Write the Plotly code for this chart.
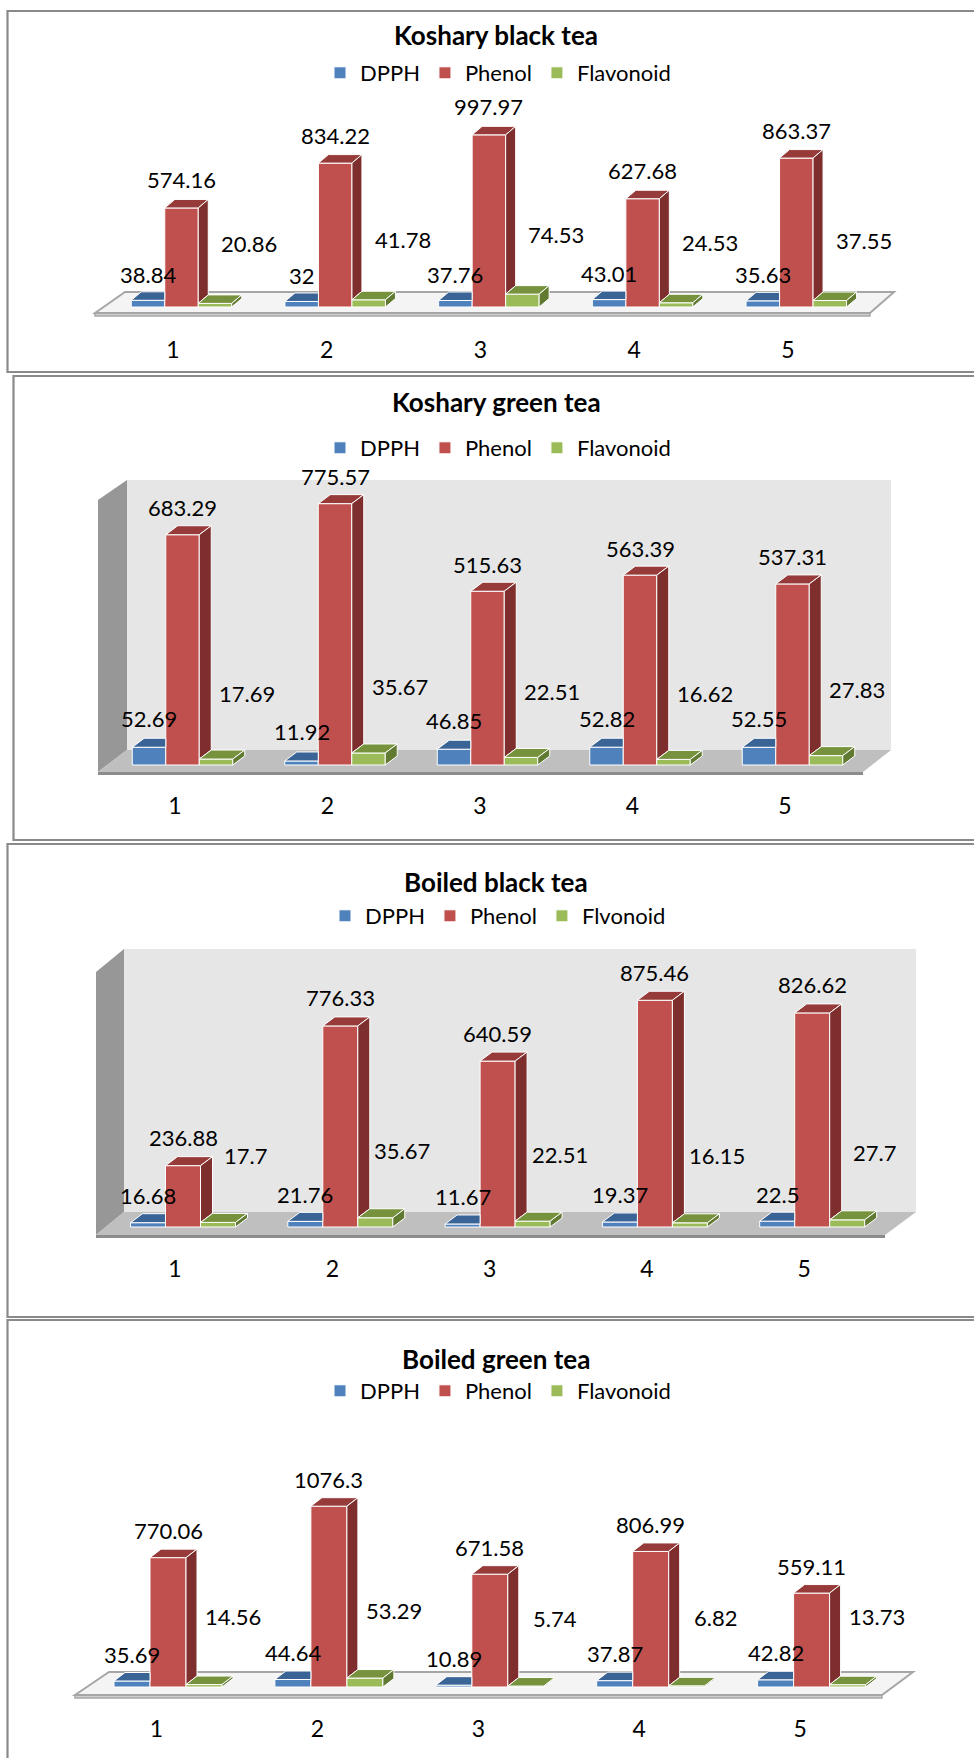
import plotly.graph_objects as go

W, H = 974, 1758

# ---------------- data ----------------
categories = ["1", "2", "3", "4", "5"]
panel_titles = ["Koshary black tea", "Koshary green tea", "Boiled black tea", "Boiled green tea"]
names_std = ["DPPH", "Phenol", "Flavonoid"]
names_bb = ["DPPH", "Phenol", "Flvonoid"]

kb_dpph = [38.84, 32, 37.76, 43.01, 35.63]
kb_phenol = [574.16, 834.22, 997.97, 627.68, 863.37]
kb_flav = [20.86, 41.78, 74.53, 24.53, 37.55]

kg_dpph = [52.69, 11.92, 46.85, 52.82, 52.55]
kg_phenol = [683.29, 775.57, 515.63, 563.39, 537.31]
kg_flav = [17.69, 35.67, 22.51, 16.62, 27.83]

bb_dpph = [16.68, 21.76, 11.67, 19.37, 22.5]
bb_phenol = [236.88, 776.33, 640.59, 875.46, 826.62]
bb_flav = [17.7, 35.67, 22.51, 16.15, 27.7]

bg_dpph = [35.69, 44.64, 10.89, 37.87, 42.82]
bg_phenol = [770.06, 1076.3, 671.58, 806.99, 559.11]
bg_flav = [14.56, 53.29, 5.74, 6.82, 13.73]

# ---------------- styles / geometry (pixels) ----------------
FRONT = ["#4F81BD", "#C0504D", "#9BBB59"]
TOP = ["#3B6496", "#963B39", "#76923C"]
SIDE = ["#2E5079", "#7E2F2D", "#617A31"]
FONT = "Lato"
TITLE_SIZE = 26
LEGEND_SIZE = 22
LABEL_SIZE = 22
TICK_SIZE = 23

panels = [
    dict(series=[kb_dpph, kb_phenol, kb_flav], names=names_std,
         box=(7.5, 11, 1000, 372), title_y=35, legend_y=73,
         cat0=173, sp=153.7, base=307, scale=0.1725, goff=8.5, bw=33.5,
         dx=10, dy=8.5, style="slab",
         floor=dict(lf=95, lb=125, rb=894, rf=870, back=292, front=313),
         cat_y=349, lab=dict(d=26, p=28, f=60, fx=34)),
    dict(series=[kg_dpph, kg_phenol, kg_flav], names=names_std,
         box=(13.5, 376, 1000, 840), title_y=402, legend_y=448,
         cat0=175, sp=152.5, base=765, scale=0.337, goff=7.5, bw=33.5,
         dx=12, dy=9, style="walls",
         floor=dict(lf=98, lb=127, rb=891, rf=863, back=750, front=772,
                    wall_top=480, side_top=500),
         cat_y=805, lab=dict(d=29, p=27, f=66, fx=31)),
    dict(series=[bb_dpph, bb_phenol, bb_flav], names=names_bb,
         box=(7.5, 844, 1000, 1317), title_y=882, legend_y=916,
         cat0=175, sp=157.3, base=1227, scale=0.259, goff=8, bw=35,
         dx=12, dy=9, style="walls",
         floor=dict(lf=96, lb=124, rb=916, rf=885, back=1212, front=1235,
                    wall_top=949, side_top=972),
         cat_y=1268, lab=dict(d=27, p=28, f=67, fx=27)),
    dict(series=[bg_dpph, bg_phenol, bg_flav], names=names_std,
         box=(7.5, 1320, 1000, 1790), title_y=1359, legend_y=1391,
         cat0=156.5, sp=160.9, base=1687, scale=0.168, goff=11.5, bw=36,
         dx=11, dy=8.5, style="slab",
         floor=dict(lf=75, lb=109, rb=913, rf=882, back=1672, front=1695),
         cat_y=1728, lab=dict(d=27, p=27, f=68, fx=29)),
]

fig = go.Figure()
shapes = []
annotations = []
layout_extra = {}


def fmt(v):
    return f"{v:g}"


for k, P in enumerate(panels):
    n = k + 1
    xa = "x" if n == 1 else f"x{n}"
    ya = "y" if n == 1 else f"y{n}"
    xaxis_key = "xaxis" if n == 1 else f"xaxis{n}"
    yaxis_key = "yaxis" if n == 1 else f"yaxis{n}"
    leg = "legend" if n == 1 else f"legend{n}"
    sp, sc = P["sp"], P["scale"]
    cat0, base = P["cat0"], P["base"]

    def X(px, cat0=cat0, sp=sp):
        return (px - cat0) / sp + 1

    def Y(py, base=base, sc=sc):
        return (base - py) / sc

    dX = P["dx"] / sp
    dY = P["dy"] / sc
    bw = P["bw"] / sp
    L, T, R, B = P["box"]

    # axes
    layout_extra[xaxis_key] = dict(
        domain=[0, 1], range=[X(0), X(W)], anchor="free",
        position=1 - (P["cat_y"] - 15) / H,
        tickmode="array", tickvals=[i + 1 for i in range(len(categories))],
        ticktext=categories, ticks="", showgrid=False, zeroline=False,
        showline=False, tickfont=dict(family=FONT, size=TICK_SIZE, color="#000000"),
        fixedrange=True)
    layout_extra[yaxis_key] = dict(
        domain=[1 - B / H if B < H else 0, 1 - T / H], range=[Y(min(B, H)), Y(T)],
        anchor=xa, visible=False, fixedrange=True)
    layout_extra[leg] = dict(
        orientation="h", x=498 / W, xanchor="center",
        y=1 - P["legend_y"] / H, yanchor="middle",
        font=dict(family=FONT, size=LEGEND_SIZE, color="#000000"),
        bgcolor="rgba(0,0,0,0)", traceorder="normal", itemclick=False)

    # background: floor / walls
    F = P["floor"]

    def path(pts, X=X, Y=Y):
        return "M " + " L ".join(f"{X(px)},{Y(py)}" for px, py in pts) + " Z"

    if P["style"] == "walls":
        shapes.append(dict(type="path", xref=xa, yref=ya, layer="below",
                           path=path([(F["lb"], F["wall_top"]), (F["rb"], F["wall_top"]),
                                      (F["rb"], F["back"]), (F["lb"], F["back"])]),
                           fillcolor="#E6E6E6", line=dict(width=0)))
        shapes.append(dict(type="path", xref=xa, yref=ya, layer="below",
                           path=path([(F["lf"], F["side_top"]), (F["lb"], F["wall_top"]),
                                      (F["lb"], F["back"]), (F["lf"], F["front"])]),
                           fillcolor="#979797", line=dict(width=0)))
        shapes.append(dict(type="path", xref=xa, yref=ya, layer="below",
                           path=path([(F["lf"], F["front"]), (F["lb"], F["back"]),
                                      (F["rb"], F["back"]), (F["rf"], F["front"])]),
                           fillcolor="#BFBFBF", line=dict(width=0)))
        shapes.append(dict(type="path", xref=xa, yref=ya, layer="below",
                           path=path([(F["lf"], F["front"]), (F["rf"], F["front"]),
                                      (F["rf"], F["front"] + 3), (F["lf"], F["front"] + 3)]),
                           fillcolor="#8C8C8C", line=dict(width=0)))
    else:
        shapes.append(dict(type="path", xref=xa, yref=ya, layer="below",
                           path=path([(F["lf"], F["front"]), (F["rf"], F["front"]),
                                      (F["rf"], F["front"] + 3), (F["lf"], F["front"] + 3)]),
                           fillcolor="#D0D0D0", line=dict(color="#A6A6A6", width=1.5)))
        shapes.append(dict(type="path", xref=xa, yref=ya, layer="below",
                           path=path([(F["lf"], F["front"]), (F["lb"], F["back"]),
                                      (F["rb"], F["back"]), (F["rf"], F["front"])]),
                           fillcolor="#F4F4F4", line=dict(color="#A6A6A6", width=2)))

    # panel border
    shapes.append(dict(type="rect", xref="paper", yref="paper",
                       x0=L / W, x1=R / W, y0=1 - B / H, y1=1 - T / H,
                       line=dict(color="#8A8A8A", width=2.2), fillcolor="rgba(0,0,0,0)"))

    # title
    annotations.append(dict(xref="paper", yref="paper", x=496 / W, y=1 - P["title_y"] / H,
                            xanchor="center", yanchor="middle", showarrow=False,
                            text=panel_titles[k],
                            font=dict(family=FONT, size=TITLE_SIZE, color="#000000",
                                      weight="bold")))

    series = P["series"]
    xs_all = []
    for s in range(3):
        off = (P["goff"] + (s - 1) * P["bw"]) / sp
        xs = [i + 1 + off for i in range(len(categories))]
        xs_all.append(xs)
        fig.add_trace(go.Bar(
            x=xs, y=series[s], width=bw, name=P["names"][s],
            marker=dict(color=FRONT[s], line=dict(color="white", width=1)),
            xaxis=xa, yaxis=ya, legend=leg, hoverinfo="skip"))

    # 3D faces derived from values
    for s in range(3):
        tx, ty, sx, sy = [], [], [], []
        for i in range(len(categories)):
            v = series[s][i]
            x0 = xs_all[s][i] - bw / 2
            x1 = x0 + bw
            nb = series[s + 1][i] if s < 2 else None
            if nb is not None and nb > v:
                tx += [x0, x0 + dX, x1, x1, x0, None]
            else:
                tx += [x0, x0 + dX, x1 + dX, x1, x0, None]
            ty += [v, v + dY, v + dY, v, v, None]
            b = 0 if nb is None else nb
            if v > b:
                sx += [x1, x1, x1 + dX, x1 + dX, x1, None]
                sy += [b, v, v + dY, b + dY, b, None]
        fig.add_trace(go.Scatter(x=tx, y=ty, mode="lines", fill="toself",
                                 fillcolor=TOP[s], line=dict(color="white", width=1),
                                 xaxis=xa, yaxis=ya, showlegend=False, hoverinfo="skip"))
        if sx:
            fig.add_trace(go.Scatter(x=sx, y=sy, mode="lines", fill="toself",
                                     fillcolor=SIDE[s], line=dict(color="white", width=1),
                                     xaxis=xa, yaxis=ya, showlegend=False, hoverinfo="skip"))

    # data labels
    lab = P["lab"]
    shifts = [(0, lab["d"]), (0, lab["p"]), (lab["fx"], lab["f"])]
    for s in range(3):
        for i in range(len(categories)):
            v = series[s][i]
            annotations.append(dict(xref=xa, yref=ya, x=xs_all[s][i], y=v,
                                    xshift=shifts[s][0], yshift=shifts[s][1],
                                    xanchor="center", yanchor="middle", showarrow=False,
                                    text=fmt(v),
                                    font=dict(family=FONT, size=LABEL_SIZE, color="#000000")))

fig.update_layout(
    width=W, height=H, margin=dict(l=0, r=0, t=0, b=0),
    paper_bgcolor="white", plot_bgcolor="rgba(0,0,0,0)",
    barmode="overlay", shapes=shapes, annotations=annotations,
    font=dict(family=FONT, color="#000000"),
    **layout_extra)

fig.write_html("out.html")
